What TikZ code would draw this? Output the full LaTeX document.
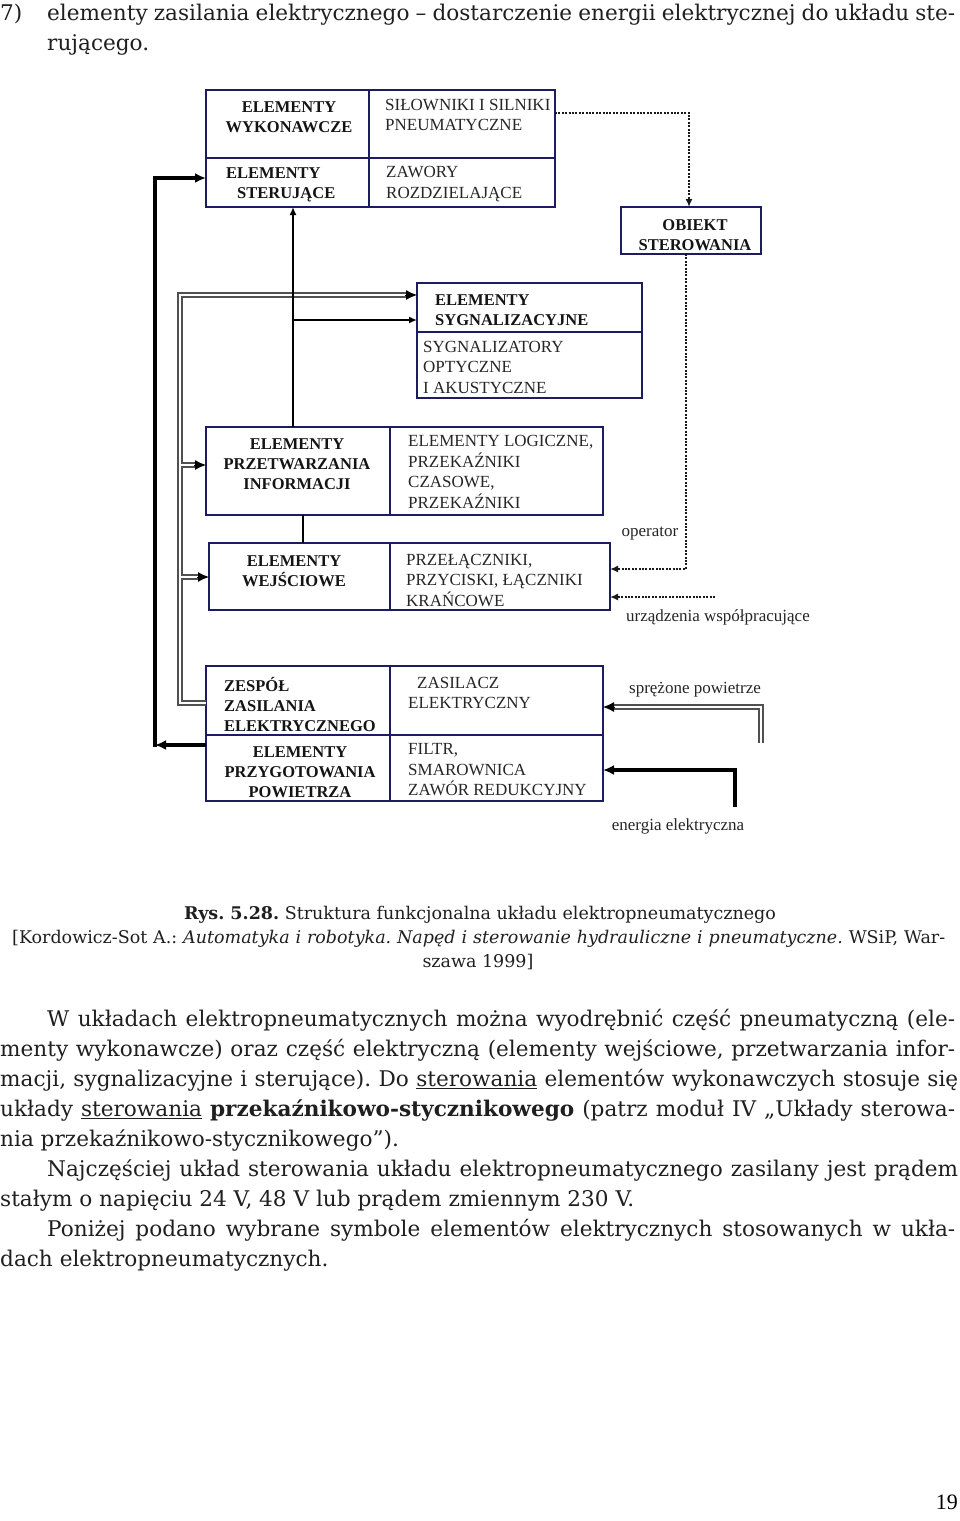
\documentclass[tikz,border=0pt]{standalone}
\usepackage{fontspec}
\setmainfont{DejaVu Serif}
\newfontfamily\diagfont{Liberation Serif}
\usetikzlibrary{arrows.meta,calc}
\definecolor{boxc}{RGB}{28,28,96}
\definecolor{dblc}{RGB}{80,80,80}
\definecolor{dotc}{RGB}{25,25,25}
\frenchspacing
\begin{document}
\begin{tikzpicture}[x=1pt,y=-1pt,
  cell/.style={draw=boxc, line width=1.6pt, inner sep=0pt, outer sep=0pt, anchor=north west},
  bt/.style={font=\diagfont\bfseries\fontsize{16.5}{20}\selectfont, text=black!92, inner sep=0pt},
  rt/.style={font=\diagfont\fontsize{17}{20.5}\selectfont, text=black!85, inner sep=0pt},
  lab/.style={font=\diagfont\fontsize{17}{19}\selectfont, text=black!85, inner sep=0pt},
  body/.style={anchor=base west, inner sep=0pt, font=\fontsize{21.6}{30}\selectfont, text=black!88},
  capt/.style={inner sep=0pt, font=\fontsize{17.5}{24}\selectfont, text=black!88},
  thk/.style={line width=3.6pt, black, line join=miter},
  thn/.style={line width=1.6pt, black},
  dots/.style={line width=2.2pt, dotc, dash pattern=on 2pt off 1.4pt},
  bigtip/.style={-{Latex[length=11pt,width=10pt]}},
  tiptip/.style={-{Latex[length=8pt,width=7pt]}},
  dottip/.style={-{Latex[length=8pt,width=7pt]}},
  dbltip/.style={-{Latex[length=11pt,width=10pt]}, line width=1pt, black}
]
\useasboundingbox (0,0) rectangle (960,1521);
\fill[white] (0,0) rectangle (960,1521);

% ---------- header ----------
\node[body] (h0) at (0,20) {7)};
\node[body] (h1) at (47,20) {\makebox[908pt][s]{elementy zasilania elektrycznego – dostarczenie energii elektrycznej do układu ste-}};
\node[body] (h2) at (47,50) {rującego.};

% ---------- cells ----------
\node[cell, minimum width=163pt, minimum height=68pt] (wyk) at (206,90) {};
\node[cell, minimum width=186pt, minimum height=68pt] (silown) at (369,90) {};
\node[cell, minimum width=163pt, minimum height=49pt] (ster) at (206,158) {};
\node[cell, minimum width=186pt, minimum height=49pt] (zawory) at (369,158) {};
\node[cell, minimum width=140pt, minimum height=47pt] (obiekt) at (621,207) {};
\node[cell, minimum width=225pt, minimum height=49pt] (sygn) at (417,283) {};
\node[cell, minimum width=225pt, minimum height=66pt] (sygnal) at (417,332) {};
\node[cell, minimum width=184pt, minimum height=88pt] (przetw) at (206,427) {};
\node[cell, minimum width=213pt, minimum height=88pt] (logic) at (390,427) {};
\node[cell, minimum width=181pt, minimum height=67pt] (wejsc) at (209,543) {};
\node[cell, minimum width=220pt, minimum height=67pt] (przel) at (390,543) {};
\node[cell, minimum width=184pt, minimum height=69pt] (zesp) at (206,666) {};
\node[cell, minimum width=213pt, minimum height=69pt] (zasil) at (390,666) {};
\node[cell, minimum width=184pt, minimum height=66pt] (przyg) at (206,735) {};
\node[cell, minimum width=213pt, minimum height=66pt] (filtr) at (390,735) {};

% ---------- cell texts ----------
\node[bt, align=center] (twyk) at (289,117) {ELEMENTY\\WYKONAWCZE};
\node[bt, align=left, anchor=west] (tster) at (226,185) {ELEMENTY\\\hspace*{11pt}STERUJĄCE};
\node[rt, align=left, anchor=west] (tsilown) at (385,115) {SIŁOWNIKI I SILNIKI\\PNEUMATYCZNE};
\node[rt, align=left, anchor=west] (tzaw) at (386,184) {ZAWORY\\ROZDZIELAJĄCE};
\node[bt, align=center] (tobj) at (695,235) {OBIEKT\\STEROWANIA};
\node[bt, align=left, anchor=west] (tsygn) at (435,310) {ELEMENTY\\SYGNALIZACYJNE};
\node[rt, align=left, anchor=west] (tsygnal) at (423,367) {SYGNALIZATORY\\OPTYCZNE\\I AKUSTYCZNE};
\node[bt, align=center] (tprzetw) at (297,464) {ELEMENTY\\PRZETWARZANIA\\INFORMACJI};
\node[rt, align=left, anchor=west] (tlogic) at (408,472) {ELEMENTY LOGICZNE,\\PRZEKAŹNIKI\\CZASOWE,\\PRZEKAŹNIKI};
\node[bt, align=center] (twejsc) at (294,571) {ELEMENTY\\WEJŚCIOWE};
\node[rt, align=left, anchor=west] (tprzel) at (406,580) {PRZEŁĄCZNIKI,\\PRZYCISKI, ŁĄCZNIKI\\KRAŃCOWE};
\node[bt, align=left, anchor=west] (tzesp) at (224,704) {ZESPÓŁ\\ZASILANIA\\ELEKTRYCZNEGO};
\node[rt, align=left, anchor=west] (tzasil) at (408,693) {\hspace*{9pt}ZASILACZ\\ELEKTRYCZNY};
\node[bt, align=center] (tprzyg) at (300,772) {ELEMENTY\\PRZYGOTOWANIA\\POWIETRZA};
\node[rt, align=left, anchor=west] (tfiltr) at (408,770) {FILTR,\\SMAROWNICA\\ZAWÓR REDUKCYJNY};

% ---------- coordinates ----------
\coordinate (cB) at (155,745);
\coordinate (cT) at (155,178);
\coordinate (dB) at (180,703);
\coordinate (dT) at (180,295);
\coordinate (dP) at (180,465);
\coordinate (dW) at (180,577);
\coordinate (tb) at (293,320);
\coordinate (tc) at (303,530);
\coordinate (d1) at (689,113);
\coordinate (d2) at (686,569);
\coordinate (d3) at (715,597);
\coordinate (s1) at (761,743);
\coordinate (s2) at (761,707);
\coordinate (e1) at (735,807);
\coordinate (e2) at (735,770);

% ---------- double (air) lines ----------
\foreach \lw/\col in {5.2/dblc, 2/white} {
  \draw[line width=\lw pt, draw=\col, line join=miter]
    (zesp.west |- dB) -- (dB) -- (dT) -- ($(sygn.west |- dT)+(-8,0)$);
  \draw[line width=\lw pt, draw=\col] (dP) -- ($(przetw.west |- dP)+(-8,0)$);
  \draw[line width=\lw pt, draw=\col] (dW) -- ($(wejsc.west |- dW)+(-8,0)$);
  \draw[line width=\lw pt, draw=\col, line join=miter]
    (s1) -- (s2) -- ($(zasil.east |- s2)+(8,0)$);
}
\draw[dbltip] ($(sygn.west |- dT)+(-12,0)$) -- (sygn.west |- dT);
\draw[dbltip] ($(przetw.west |- dP)+(-12,0)$) -- (przetw.west |- dP);
\draw[dbltip] ($(wejsc.west |- dW)+(-12,0)$) -- (wejsc.west |- dW);
\draw[dbltip] ($(zasil.east |- s2)+(12,0)$) -- (zasil.east |- s2);

% ---------- thick black (electric energy) ----------
\draw[thk, bigtip] (przyg.west |- cB) -- (cB);
\draw[thk, bigtip] ($(cB)+(0,1.8)$) -- (cT) -- (ster.west |- cT);
\draw[thk, bigtip] (e1) -- (e2) -- (filtr.east |- e2);

% ---------- thin black signal lines ----------
\draw[thn, tiptip] (przetw.north -| tb) -- (ster.south -| tb);
\draw[thn, tiptip] (tb) -- (sygn.west |- tb);
\draw[thn] (przetw.south -| tc) -- (wejsc.north -| tc);

% ---------- dotted ----------
\draw[dots, dottip] (silown.east |- d1) -- (d1) -- (obiekt.north -| d1);
\draw[dots, dottip] (obiekt.south -| d2) -- (d2) -- (przel.east |- d2);
\draw[dots, dottip] (d3) -- (przel.east |- d3);

% ---------- labels ----------
\node[lab] (lop) at (650,534) {operator};
\node[lab] (lurz) at (718,617) {urządzenia współpracujące};
\node[lab] (lspr) at (695,690) {sprężone powietrze};
\node[lab] (len) at (678,826) {energia elektryczna};

% ---------- caption ----------
\node[capt, anchor=base] (c1) at (480,919) {\textbf{Rys. 5.28.} Struktura funkcjonalna układu elektropneumatycznego};
\node[capt, anchor=base west] (c2) at (12,943) {\makebox[933pt][s]{[Kordowicz-Sot A.: \textit{Automatyka i robotyka. Napęd i sterowanie hydrauliczne i pneumatyczne.} WSiP, War-}};
\node[capt, anchor=base] (c3) at (478,967) {szawa 1999]};

% ---------- body ----------
\node[body] (b1) at (47,1026) {\makebox[908pt][s]{W układach elektropneumatycznych można wyodrębnić część pneumatyczną (ele-}};
\node[body] (b2) at (0,1056) {\makebox[955pt][s]{menty wykonawcze) oraz część elektryczną (elementy wejściowe, przetwarzania infor-}};
\node[body] (b3) at (0,1086) {\makebox[958pt][s]{macji, sygnalizacyjne i sterujące). Do \underline{sterowania} elementów wykonawczych stosuje się}};
\node[body] (b4) at (0,1116) {\makebox[955pt][s]{układy \underline{sterowania} \textbf{przekaźnikowo-stycznikowego} (patrz moduł IV „Układy sterowa-}};
\node[body] (b5) at (0,1146) {nia przekaźnikowo-stycznikowego”).};
\node[body] (b6) at (47,1176) {\makebox[911pt][s]{Najczęściej układ sterowania układu elektropneumatycznego zasilany jest prądem}};
\node[body] (b7) at (0,1206) {stałym o napięciu 24 V, 48 V lub prądem zmiennym 230 V.};
\node[body] (b8) at (47,1236) {\makebox[908pt][s]{Poniżej podano wybrane symbole elementów elektrycznych stosowanych w ukła-}};
\node[body] (b9) at (0,1266) {dach elektropneumatycznych.};

% ---------- page number ----------
\node[anchor=base east, inner sep=0pt, font=\diagfont\fontsize{22}{24}\selectfont] (pg) at (958,1509) {19};
\end{tikzpicture}
\end{document}
